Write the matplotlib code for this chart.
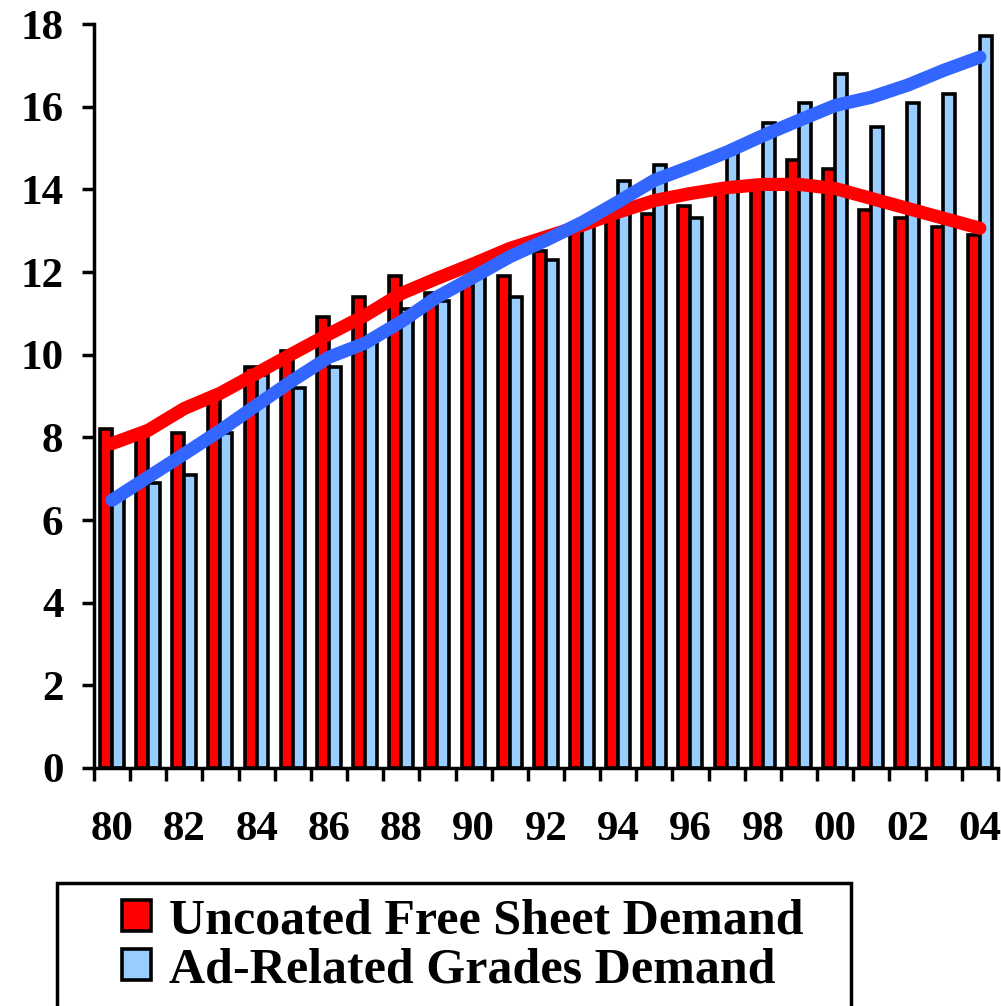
import matplotlib
matplotlib.use("Agg")
import matplotlib.pyplot as plt
from matplotlib.patches import Patch, Rectangle
import numpy as np

# years 1980-2004, labels shown every other year
years = ["80", "81", "82", "83", "84", "85", "86", "87", "88", "89", "90", "91", "92",
         "93", "94", "95", "96", "97", "98", "99", "00", "01", "02", "03", "04"]

uncoated = [8.2, 8.1, 8.1, 9.0, 9.7, 10.1, 10.9, 11.4, 11.9, 11.5, 11.8, 11.9, 12.5,
            13.0, 13.5, 13.4, 13.6, 14.1, 14.2, 14.7, 14.5, 13.5, 13.3, 13.1, 12.9]
ad_related = [6.5, 6.9, 7.1, 8.1, 9.5, 9.2, 9.7, 10.4, 11.1, 11.3, 11.9, 11.4, 12.3,
              13.2, 14.2, 14.6, 13.3, 15.0, 15.6, 16.1, 16.8, 15.5, 16.1, 16.3, 17.7]

# smoothed trend lines
uncoated_trend = [7.85, 8.17, 8.7, 9.07, 9.55, 10.03, 10.5, 10.95, 11.48, 11.85, 12.2, 12.57, 12.85,
                  13.13, 13.45, 13.73, 13.9, 14.04, 14.12, 14.12, 14.02, 13.78, 13.54, 13.3, 13.06]
ad_trend = [6.48, 7.04, 7.6, 8.17, 8.78, 9.38, 9.94, 10.28, 10.8, 11.4, 11.88, 12.37, 12.77,
            13.2, 13.7, 14.22, 14.55, 14.9, 15.3, 15.67, 16.03, 16.23, 16.52, 16.88, 17.2]

RED = "#FF0000"
LIGHT_BLUE = "#99CCFF"
LINE_BLUE = "#3366FF"

plt.rcParams["font.family"] = "Liberation Serif"
plt.rcParams["font.weight"] = "bold"

fig = plt.figure(figsize=(10.01, 10.06), dpi=100)
ax = fig.add_axes([0.0939, 0.2366, 0.903, 0.7395])

x = np.arange(len(years))
w = 0.33
ax.bar(x - 0.17, uncoated, width=w, color=RED, edgecolor="black", linewidth=2.6, zorder=2)
ax.bar(x + 0.16, ad_related, width=w, color=LIGHT_BLUE, edgecolor="black", linewidth=2.6, zorder=2)

ax.plot(x, uncoated_trend, color=RED, linewidth=9.5, solid_capstyle="round", zorder=3)
ax.plot(x, ad_trend, color=LINE_BLUE, linewidth=9.5, solid_capstyle="round", zorder=4)

ax.set_xlim(-0.5, len(years) - 0.5)
ax.set_ylim(0, 18)
ax.set_yticks(range(0, 19, 2))

# ticks sit on the category boundaries, labels at every second category centre
ax.set_xticks(np.arange(-0.5, len(years), 1.0))
ax.set_xticklabels([])
ax.set_xticks(x[::2], minor=True)
ax.set_xticklabels(years[::2], minor=True)
ax.tick_params(axis="x", which="minor", length=0, pad=31, labelsize=31)
ax.tick_params(axis="x", which="major", direction="out", length=9, width=2.5)
ax.tick_params(axis="y", direction="out", length=9, width=2.5, pad=13, labelsize=31)

for side in ["top", "right"]:
    ax.spines[side].set_visible(False)
for side in ["left", "bottom"]:
    ax.spines[side].set_linewidth(2.5)

handles = [Patch(facecolor=RED, edgecolor="black", linewidth=2.6),
           Patch(facecolor=LIGHT_BLUE, edgecolor="black", linewidth=2.6)]
fig.legend(handles, ["Uncoated Free Sheet Demand", "Ad-Related Grades Demand"],
           loc="upper left", bbox_to_anchor=(0.122, 0.107), frameon=False,
           fontsize=36, handlelength=0.58, handleheight=0.58, handletextpad=0.36,
           labelspacing=0.06, borderpad=0, borderaxespad=0)

fig.patches.append(Rectangle((0.057, -0.05), 0.793, 0.05 + 1 - 883 / 1006,
                             transform=fig.transFigure, fill=False,
                             edgecolor="black", linewidth=2.5, clip_on=False))

fig.savefig("out.png", dpi=100)
